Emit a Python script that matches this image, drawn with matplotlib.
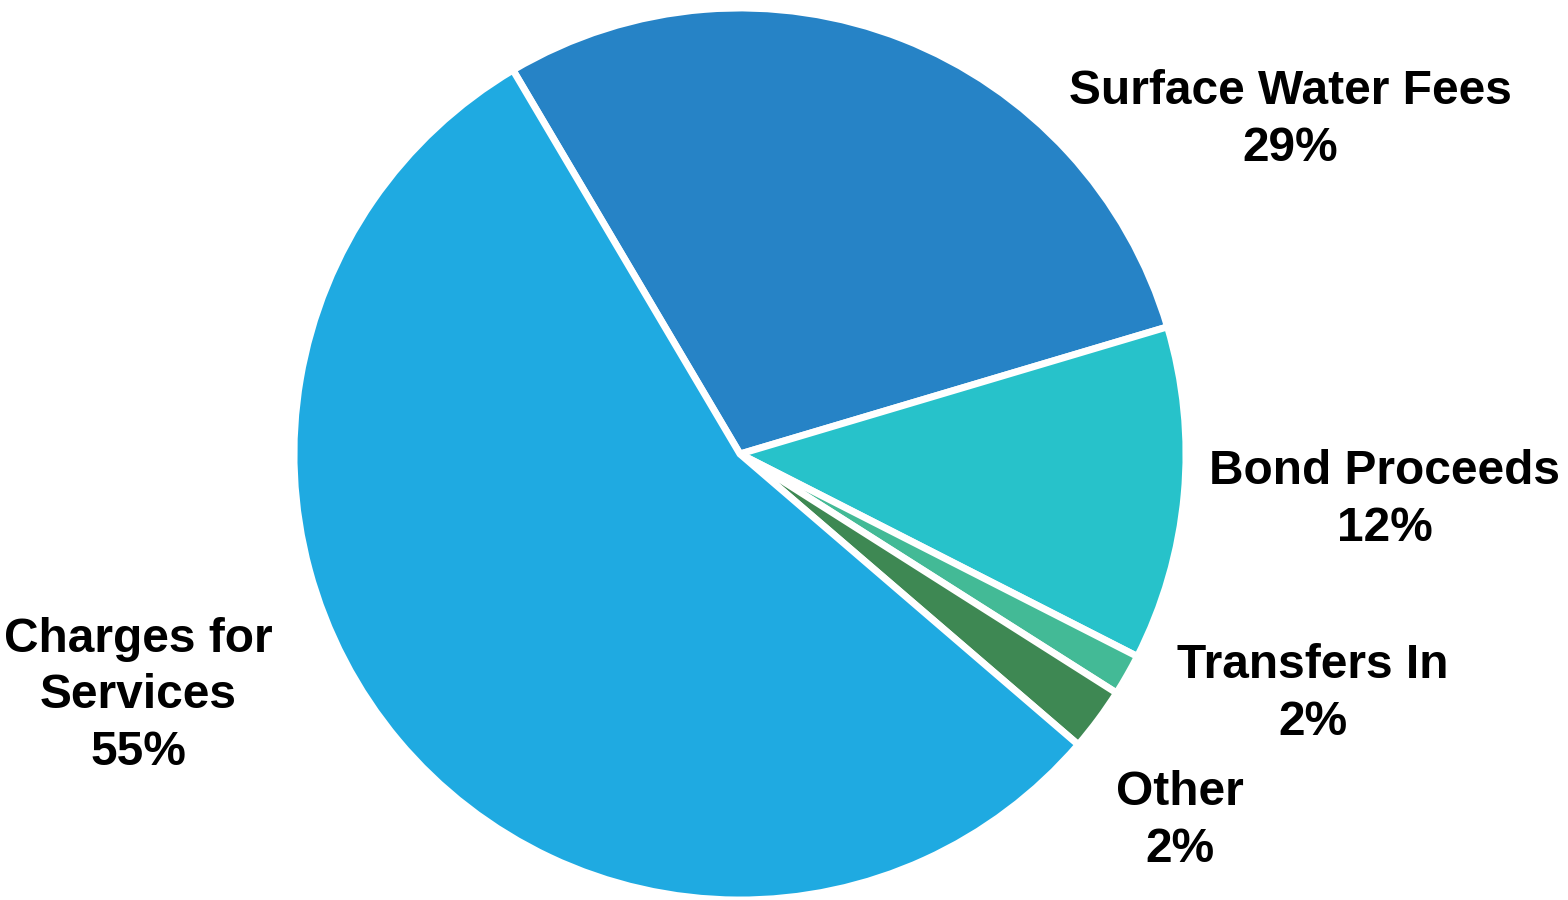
import matplotlib.pyplot as plt

# revenue sources, clockwise from the top-left edge
labels = ['Surface Water Fees', 'Bond Proceeds', 'Transfers In', 'Other', 'Charges for\nServices']
values = [28.9, 12.1, 1.5, 2.3, 55.2]
pct_text = ['29%', '12%', '2%', '2%', '55%']
colors = ['#2683C6', '#27C2CA', '#43BA96', '#3E8853', '#1FAAE1']

# label centres in pixel coords (y measured from top)
label_pos = [(1290, 120), (1385, 500), (1313, 694), (1180, 821), (138, 696)]

fig = plt.figure(figsize=(15.68, 9), dpi=100)
ax = fig.add_axes([0, 0, 1, 1])
ax.set_xlim(0, 1568)
ax.set_ylim(0, 900)
ax.set_aspect('equal')
ax.axis('off')

ax.pie(values, colors=colors, startangle=120.6, counterclock=False,
       center=(740, 446), radius=446,
       wedgeprops=dict(edgecolor='white', linewidth=5))
ax.set_xlim(0, 1568)
ax.set_ylim(0, 900)

for lab, p, (x, y) in zip(labels, pct_text, label_pos):
    ax.text(x, 900 - y, lab + '\n' + p, ha='center', va='center',
            fontsize=34.5, fontweight='bold', family='Liberation Sans',
            linespacing=1.32)

fig.savefig('out.png', dpi=100)
